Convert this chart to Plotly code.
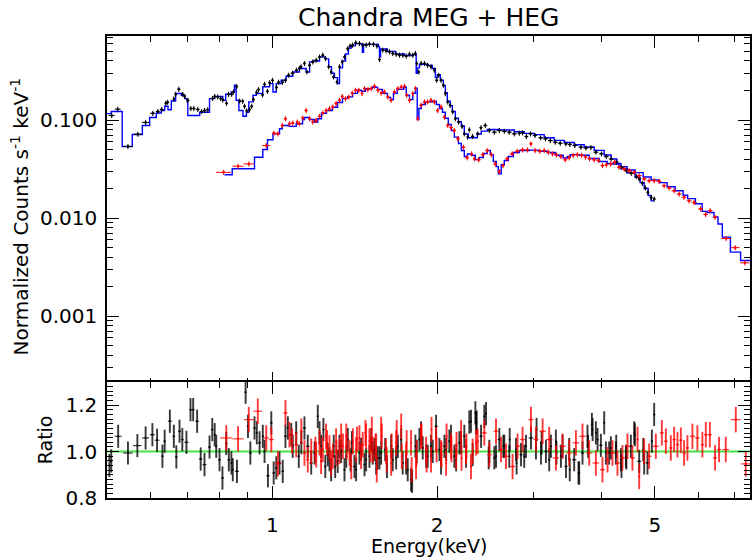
import math
import plotly.graph_objects as go

# ---------------- MEG (first order, black) spectrum ----------------
meg_energy = [0.509, 0.522, 0.545, 0.568, 0.587, 0.605, 0.618, 0.628, 0.639, 0.644,
              0.661, 0.666, 0.675, 0.686, 0.692, 0.701, 0.710, 0.719, 0.731, 0.743,
              0.752, 0.762, 0.778, 0.785, 0.795, 0.805, 0.812, 0.825, 0.832, 0.843,
              0.850, 0.861, 0.872, 0.883, 0.890, 0.898, 0.909, 0.917, 0.924, 0.936,
              0.944, 0.960, 0.968, 0.980, 0.989, 1.001, 1.018, 1.027, 1.044, 1.057,
              1.071, 1.089, 1.107, 1.121, 1.129, 1.145, 1.157, 1.170, 1.186, 1.203,
              1.220, 1.237, 1.251, 1.268, 1.281, 1.294, 1.313, 1.327, 1.342, 1.355,
              1.373, 1.387, 1.402, 1.421, 1.443, 1.463, 1.484, 1.505, 1.531, 1.553,
              1.570, 1.592, 1.614, 1.637, 1.660, 1.684, 1.708, 1.732, 1.757, 1.781,
              1.806, 1.826, 1.836, 1.852, 1.870, 1.897, 1.923, 1.950, 1.978, 1.997,
              2.014, 2.034, 2.054, 2.071, 2.092, 2.113, 2.136, 2.160, 2.190, 2.222,
              2.243, 2.275, 2.291, 2.323, 2.373, 2.406, 2.450, 2.492, 2.545, 2.599,
              2.654, 2.710, 2.768, 2.827, 2.866, 2.912, 2.963, 3.019, 3.093, 3.156,
              3.221, 3.288, 3.358, 3.438, 3.497, 3.571, 3.663, 3.740, 3.820, 3.901,
              3.993, 4.075, 4.160, 4.250, 4.343, 4.436, 4.527, 4.624, 4.681, 4.744,
              4.804, 4.855, 4.921, 4.985]
meg_counts = [0.111, 0.129, 0.0537, 0.0717, 0.0945, 0.117, 0.122, 0.128, 0.148, 0.152,
              0.164, 0.183, 0.206, 0.183, 0.174, 0.159, 0.131, 0.131, 0.128, 0.122,
              0.125, 0.127, 0.166, 0.174, 0.172, 0.166, 0.160, 0.148, 0.183, 0.183,
              0.194, 0.219, 0.156, 0.155, 0.138, 0.124, 0.128, 0.138, 0.162, 0.192,
              0.204, 0.180, 0.231, 0.196, 0.240, 0.254, 0.215, 0.243, 0.243, 0.254,
              0.286, 0.300, 0.322, 0.337, 0.349, 0.377, 0.309, 0.362, 0.391, 0.407,
              0.439, 0.458, 0.424, 0.349, 0.309, 0.275, 0.244, 0.349, 0.391, 0.439,
              0.533, 0.567, 0.580, 0.612, 0.603, 0.580, 0.580, 0.594, 0.590, 0.567,
              0.414, 0.516, 0.508, 0.496, 0.477, 0.469, 0.458, 0.458, 0.448, 0.469,
              0.458, 0.477, 0.377, 0.309, 0.377, 0.377, 0.362, 0.349, 0.322, 0.254,
              0.286, 0.254, 0.226, 0.186, 0.153, 0.141, 0.121, 0.103, 0.0953, 0.0860,
              0.0723, 0.0669, 0.0794, 0.0679, 0.0723, 0.0834, 0.0880, 0.0782, 0.0752, 0.0782,
              0.0769, 0.0752, 0.0723, 0.0734, 0.0741, 0.0679, 0.0723, 0.0696, 0.0659, 0.0644,
              0.0618, 0.0594, 0.0580, 0.0572, 0.0563, 0.0550, 0.0529, 0.0518, 0.0524, 0.0470,
              0.0452, 0.0424, 0.0401, 0.0371, 0.0330, 0.0305, 0.0286, 0.0265, 0.0251, 0.0226,
              0.0203, 0.0183, 0.0162, 0.0157]

# ---------------- HEG (first order, red) spectrum ----------------
heg_energy = [0.815, 0.866, 0.906, 0.975, 1.007, 1.024, 1.043, 1.057, 1.075, 1.090,
              1.111, 1.121, 1.137, 1.153, 1.170, 1.186, 1.203, 1.220, 1.237, 1.254,
              1.272, 1.290, 1.308, 1.327, 1.342, 1.361, 1.380, 1.400, 1.419, 1.439,
              1.459, 1.474, 1.495, 1.516, 1.537, 1.560, 1.581, 1.603, 1.626, 1.648,
              1.672, 1.696, 1.720, 1.744, 1.761, 1.781, 1.806, 1.826, 1.844, 1.870,
              1.897, 1.923, 1.950, 1.978, 2.005, 2.034, 2.063, 2.092, 2.121, 2.151,
              2.184, 2.235, 2.270, 2.313, 2.340, 2.383, 2.425, 2.470, 2.513, 2.555,
              2.599, 2.640, 2.687, 2.743, 2.803, 2.866, 2.925, 2.968, 3.021, 3.081,
              3.139, 3.195, 3.250, 3.305, 3.368, 3.430, 3.487, 3.545, 3.608, 3.674,
              3.735, 3.798, 3.873, 3.945, 4.011, 4.077, 4.151, 4.220, 4.303, 4.394,
              4.487, 4.583, 4.681, 4.780, 4.881, 4.985, 5.091, 5.199, 5.309, 5.422,
              5.537, 5.654, 5.774, 5.897, 6.060, 6.190, 6.310, 6.440, 6.750, 7.010,
              7.300]
heg_counts = [0.0293, 0.0338, 0.0357, 0.0549, 0.0734, 0.0723, 0.0880, 0.103, 0.0917, 0.0930,
              0.0953, 0.0917, 0.105, 0.125, 0.103, 0.0953, 0.0991, 0.109, 0.118, 0.125,
              0.130, 0.136, 0.147, 0.159, 0.174, 0.165, 0.172, 0.188, 0.201, 0.201,
              0.186, 0.209, 0.204, 0.209, 0.221, 0.201, 0.188, 0.193, 0.172, 0.159,
              0.193, 0.209, 0.217, 0.221, 0.179, 0.159, 0.186, 0.209, 0.103, 0.141,
              0.153, 0.153, 0.159, 0.153, 0.125, 0.136, 0.107, 0.0880, 0.0840, 0.0782,
              0.0644, 0.0528, 0.0412, 0.0452, 0.0403, 0.0393, 0.0444, 0.0488, 0.0444, 0.0357,
              0.0298, 0.0343, 0.0403, 0.0452, 0.0480, 0.0496, 0.0496, 0.0572, 0.0488, 0.0480,
              0.0488, 0.0470, 0.0452, 0.0442, 0.0424, 0.0393, 0.0412, 0.0437, 0.0444, 0.0437,
              0.0419, 0.0403, 0.0393, 0.0386, 0.0343, 0.0349, 0.0357, 0.0371, 0.0330, 0.0317,
              0.0305, 0.0293, 0.0271, 0.0251, 0.0241, 0.0241, 0.0237, 0.0214, 0.0203, 0.0190,
              0.0176, 0.0163, 0.0150, 0.0144, 0.0124, 0.0109, 0.0119, 0.0102, 0.0062, 0.0050,
              0.0035]

# ---------------- folded model (blue histogram), left bin edges ----------------
meg_model_edges = [0.498, 0.508, 0.532, 0.555, 0.579, 0.597, 0.614, 0.627, 0.636, 0.645,
                   0.654, 0.666, 0.682, 0.692, 0.699, 0.701, 0.737, 0.768, 0.785, 0.812,
                   0.822, 0.841, 0.853, 0.859, 0.869, 0.884, 0.897, 0.906, 0.922, 0.935,
                   0.961, 0.989, 1.003, 1.017, 1.038, 1.060, 1.090, 1.121, 1.153, 1.170,
                   1.185, 1.220, 1.251, 1.268, 1.283, 1.299, 1.316, 1.327, 1.344, 1.361,
                   1.378, 1.395, 1.418, 1.455, 1.461, 1.468, 1.518, 1.563, 1.570, 1.577,
                   1.623, 1.679, 1.744, 1.806, 1.832, 1.840, 1.857, 1.921, 1.961, 1.986,
                   2.003, 2.028, 2.054, 2.071, 2.088, 2.115, 2.133, 2.160, 2.188, 2.215,
                   2.243, 2.281, 2.369, 2.409, 2.471, 2.599, 2.768, 2.886, 3.010, 3.139,
                   3.274, 3.414, 3.561, 3.714, 3.873, 4.040, 4.159, 4.262, 4.335, 4.448,
                   4.602, 4.700, 4.780, 4.861, 4.923]
meg_model_values = [0.116, 0.122, 0.0537, 0.0712, 0.088, 0.106, 0.118, 0.125, 0.138, 0.127,
                    0.156, 0.186, 0.179, 0.165, 0.153, 0.111, 0.120, 0.165, 0.174, 0.159,
                    0.183, 0.193, 0.226, 0.159, 0.125, 0.109, 0.120, 0.153, 0.179, 0.186,
                    0.218, 0.235, 0.193, 0.235, 0.254, 0.279, 0.309, 0.335, 0.309, 0.391,
                    0.40, 0.44, 0.42, 0.35, 0.30, 0.27, 0.235, 0.34, 0.40, 0.47,
                    0.54, 0.57, 0.60, 0.59, 0.49, 0.59, 0.59, 0.56, 0.44, 0.53,
                    0.50, 0.47, 0.455, 0.465, 0.30, 0.34, 0.37, 0.36, 0.335, 0.27,
                    0.29, 0.255, 0.225, 0.19, 0.155, 0.14, 0.122, 0.104, 0.096, 0.087,
                    0.072, 0.066, 0.072, 0.077, 0.080, 0.079, 0.076, 0.073, 0.071, 0.066,
                    0.062, 0.059, 0.056, 0.053, 0.049, 0.044, 0.040, 0.036, 0.032, 0.029,
                    0.026, 0.023, 0.020, 0.017, 0.0150]
meg_model_end = 4.99

heg_model_edges = [0.818, 0.845, 0.928, 0.961, 0.980, 1.003, 1.031, 1.043, 1.075, 1.106,
                   1.136, 1.145, 1.170, 1.195, 1.211, 1.230, 1.256, 1.288, 1.316, 1.344,
                   1.373, 1.402, 1.431, 1.455, 1.480, 1.524, 1.557, 1.590, 1.623, 1.644,
                   1.665, 1.691, 1.737, 1.757, 1.781, 1.806, 1.826, 1.840, 1.853, 1.871,
                   1.904, 1.961, 1.994, 2.020, 2.046, 2.071, 2.097, 2.124, 2.151, 2.188,
                   2.215, 2.243, 2.273, 2.310, 2.349, 2.389, 2.430, 2.471, 2.502, 2.534,
                   2.566, 2.588, 2.620, 2.654, 2.699, 2.757, 2.827, 2.948, 3.074, 3.180,
                   3.288, 3.400, 3.458, 3.502, 3.637, 3.793, 3.956, 4.090, 4.194, 4.303,
                   4.448, 4.602, 4.760, 4.923, 5.091, 5.265, 5.445, 5.630, 5.740, 5.930,
                   6.100, 6.230, 6.410, 6.520, 6.640, 6.870, 7.170]
heg_model_values = [0.0277, 0.0318, 0.0417, 0.050, 0.0629, 0.0723, 0.0814, 0.088, 0.086, 0.0917,
                    0.101, 0.106, 0.101, 0.0953, 0.103, 0.117, 0.125, 0.135, 0.151, 0.166,
                    0.172, 0.187, 0.201, 0.196, 0.208, 0.216, 0.205, 0.187, 0.170, 0.162,
                    0.187, 0.205, 0.216, 0.179, 0.162, 0.187, 0.211, 0.101, 0.131, 0.144,
                    0.153, 0.155, 0.144, 0.131, 0.120, 0.104, 0.0902, 0.0782, 0.0669, 0.0577,
                    0.0488, 0.0424, 0.0450, 0.0437, 0.0396, 0.0415, 0.0456, 0.0488, 0.0444, 0.0377,
                    0.0335, 0.0283, 0.0351, 0.0386, 0.0424, 0.0466, 0.0488, 0.0493, 0.0480, 0.0466,
                    0.0437, 0.0410, 0.0424, 0.0444, 0.0437, 0.0405, 0.0377, 0.0360, 0.0355, 0.0335,
                    0.0309, 0.0291, 0.0262, 0.0245, 0.0230, 0.0209, 0.0190, 0.0171, 0.0158, 0.0140,
                    0.0117, 0.0114, 0.0103, 0.0087, 0.0064, 0.0045, 0.0037]
heg_model_end = 7.46

# ---------------- data / model ratio ----------------
meg_ratio_energy = [0.504, 0.508, 0.523, 0.545, 0.567, 0.587, 0.604, 0.616, 0.630, 0.636,
                    0.650, 0.661, 0.668, 0.677, 0.685, 0.697, 0.709, 0.717, 0.729, 0.740,
                    0.752, 0.768, 0.777, 0.785, 0.790, 0.801, 0.811, 0.824, 0.833, 0.842,
                    0.847, 0.862, 0.894, 0.903, 0.912, 0.928, 0.937, 0.948, 0.961, 0.968,
                    0.982, 0.996, 1.006, 1.017, 1.031, 1.045, 1.057, 1.068, 1.083, 1.090,
                    1.106, 1.118, 1.130, 1.145, 1.161, 1.178, 1.195, 1.211, 1.220, 1.228,
                    1.240, 1.250, 1.263, 1.272, 1.281, 1.295, 1.303, 1.317, 1.327, 1.336,
                    1.355, 1.365, 1.374, 1.390, 1.398, 1.413, 1.423, 1.443, 1.453, 1.474,
                    1.484, 1.505, 1.516, 1.526, 1.537, 1.548, 1.558, 1.570, 1.581, 1.608,
                    1.620, 1.649, 1.660, 1.684, 1.696, 1.720, 1.731, 1.756, 1.768, 1.793,
                    1.801, 1.826, 1.836, 1.857, 1.870, 1.883, 1.910, 1.923, 1.950, 1.964,
                    1.992, 2.020, 2.034, 2.063, 2.078, 2.106, 2.121, 2.151, 2.167, 2.197,
                    2.213, 2.243, 2.259, 2.291, 2.307, 2.323, 2.350, 2.357, 2.363, 2.407,
                    2.440, 2.458, 2.485, 2.492, 2.545, 2.563, 2.599, 2.643, 2.654, 2.710,
                    2.715, 2.788, 2.795, 2.847, 2.886, 2.907, 2.969, 3.032, 3.040, 3.097,
                    3.105, 3.162, 3.206, 3.229, 3.297, 3.305, 3.368, 3.391, 3.440, 3.487,
                    3.495, 3.561, 3.626, 3.637, 3.688, 3.766, 3.775, 3.836, 3.848, 3.901,
                    3.929, 3.984, 4.040, 4.069, 4.125, 4.155, 4.243, 4.250, 4.334, 4.345,
                    4.426, 4.435, 4.520, 4.583, 4.597, 4.681, 4.761, 4.780, 4.847, 4.937,
                    4.985]
meg_ratio = [0.94, 0.96, 1.066, 0.994, 1.026, 1.059, 1.073, 1.049, 0.980, 1.045,
             1.131, 1.066, 0.977, 1.088, 1.052, 1.040, 1.181, 1.181, 1.131, 0.968,
             0.944, 1.020, 1.095, 1.073, 1.023, 0.965, 0.886, 1.035, 0.965, 0.951,
             0.922, 0.915, 1.256, 1.109, 0.994, 1.102, 1.081, 1.038, 1.066, 1.001,
             0.896, 1.124, 0.908, 0.930, 0.951, 0.915, 1.066, 1.102, 1.073, 1.023,
             1.081, 0.980, 1.038, 1.102, 1.023, 0.951, 0.994, 1.152, 1.081, 1.023,
             1.095, 0.936, 0.987, 0.965, 0.922, 1.023, 0.936, 0.958, 1.023, 1.001,
             0.922, 0.980, 1.052, 0.965, 1.038, 0.936, 0.922, 0.994, 1.009, 0.944,
             0.965, 0.980, 1.052, 0.994, 1.009, 0.951, 0.973, 0.973, 0.994, 1.009,
             0.936, 1.023, 0.965, 0.973, 1.023, 1.052, 0.951, 0.951, 0.922, 0.879,
             0.872, 1.023, 1.001, 1.052, 1.081, 1.016, 0.980, 0.980, 1.023, 1.001,
             1.109, 1.009, 0.951, 1.023, 1.009, 1.045, 1.066, 0.980, 0.965, 1.038,
             1.038, 1.066, 0.980, 1.127, 1.131, 0.987, 1.167, 1.124, 1.127, 1.066,
             1.152, 1.164, 0.973, 1.001, 0.973, 0.980, 1.052, 1.023, 1.023, 0.980,
             1.052, 1.009, 0.951, 0.987, 0.980, 1.023, 1.059, 1.016, 1.095, 0.994,
             1.038, 1.001, 0.965, 1.023, 1.045, 0.994, 0.980, 1.023, 0.936, 1.009,
             0.922, 0.965, 0.908, 0.908, 0.994, 1.066, 1.023, 1.117, 1.095, 1.081,
             1.052, 1.027, 1.124, 0.994, 0.994, 1.016, 0.994, 1.023, 0.965, 0.936,
             0.980, 0.973, 1.023, 1.081, 1.073, 0.958, 1.009, 0.951, 0.951, 1.045,
             1.160]

heg_ratio_energy = [0.824, 0.866, 0.906, 0.941, 0.975, 0.996, 1.024, 1.057, 1.075, 1.087,
                    1.106, 1.130, 1.145, 1.161, 1.178, 1.199, 1.203, 1.220, 1.228, 1.237,
                    1.254, 1.259, 1.272, 1.281, 1.290, 1.308, 1.310, 1.327, 1.336, 1.346,
                    1.365, 1.368, 1.384, 1.394, 1.404, 1.423, 1.428, 1.443, 1.453, 1.463,
                    1.480, 1.484, 1.505, 1.512, 1.520, 1.526, 1.544, 1.548, 1.552, 1.581,
                    1.585, 1.614, 1.618, 1.649, 1.652, 1.684, 1.688, 1.720, 1.724, 1.756,
                    1.760, 1.793, 1.797, 1.831, 1.835, 1.870, 1.874, 1.910, 1.914, 1.950,
                    1.954, 1.992, 1.996, 2.034, 2.038, 2.078, 2.082, 2.121, 2.125, 2.167,
                    2.171, 2.213, 2.217, 2.259, 2.263, 2.307, 2.323, 2.357, 2.373, 2.440,
                    2.492, 2.563, 2.617, 2.673, 2.748, 2.806, 2.866, 2.969, 3.032, 3.118,
                    3.206, 3.297, 3.391, 3.487, 3.587, 3.688, 3.793, 3.901, 4.011, 4.097,
                    4.183, 4.272, 4.363, 4.456, 4.550, 4.648, 4.681, 4.780, 4.881, 5.020,
                    5.148, 5.236, 5.347, 5.422, 5.498, 5.577, 5.654, 5.733, 5.855, 5.979,
                    6.106, 6.194, 6.300, 6.441, 6.550, 6.737, 7.027, 7.328]
heg_ratio = [1.059, 1.055, 1.138, 1.174, 1.059, 1.052, 0.948, 1.167, 1.073, 1.045,
             1.030, 1.088, 0.994, 0.965, 1.001, 1.009, 0.987, 1.038, 0.958, 1.009,
             1.066, 1.038, 1.016, 0.951, 0.980, 1.045, 0.994, 1.001, 1.066, 1.023,
             1.066, 1.023, 0.994, 0.936, 1.045, 1.009, 1.052, 1.059, 0.980, 1.030,
             1.081, 1.066, 1.045, 1.009, 1.095, 1.009, 1.023, 1.023, 0.922, 1.095,
             1.066, 1.001, 0.965, 0.951, 1.023, 1.038, 1.081, 1.109, 0.980, 0.980,
             1.038, 1.038, 0.922, 0.936, 0.994, 1.066, 1.066, 1.009, 0.965, 0.965,
             1.095, 1.052, 1.009, 0.994, 0.987, 0.951, 1.066, 1.023, 1.009, 0.980,
             1.030, 1.081, 0.973, 1.001, 1.023, 0.936, 1.001, 1.038, 1.045, 1.081,
             0.987, 1.088, 1.009, 0.980, 0.936, 1.023, 1.052, 1.138, 1.052, 1.088,
             1.052, 0.973, 1.023, 0.994, 1.038, 1.066, 0.994, 0.951, 0.922, 0.965,
             0.994, 0.951, 0.973, 1.023, 0.973, 1.052, 0.893, 1.001, 0.980, 1.023,
             1.081, 1.045, 1.016, 1.052, 1.030, 1.049, 0.994, 1.016, 1.066, 1.059,
             1.030, 1.073, 1.073, 0.973, 1.009, 1.009, 1.138, 0.947]

# axis ticks
major_x = [1, 2, 5]
minor_x = [0.6, 0.7, 0.8, 0.9, 3, 4, 6, 7]
major_y = [0.001, 0.01, 0.1]
major_y_text = ["0.001", "0.010", "0.100"]
major_r = [0.8, 1.0, 1.2]
major_r_text = ["0.8", "1.0", "1.2"]

X_LO, X_HI = 0.499, 7.46
Y_LO, Y_HI = 2.06e-4, 0.718
R_LO, R_HI = 0.8, 1.3

PLOT_H = 559 - 36 - 61          # height of the stacked plotting area, px
SPLIT = 0.251                   # fraction of it used by the ratio panel
LINE_W = 1.5


def half_bins(e):
    """Half the distance to the closest neighbouring bin centre."""
    out = []
    for i in range(len(e)):
        gaps = []
        if i > 0:
            gaps.append(e[i] - e[i - 1])
        if i < len(e) - 1:
            gaps.append(e[i + 1] - e[i])
        out.append(0.5 * min(gaps))
    return out


def steps(edges, values, end):
    return list(edges) + [end], list(values) + [values[-1]]


minor_y = [m * 10.0 ** d for d in (-4, -3, -2, -1) for m in range(2, 10)
           if Y_LO <= m * 10.0 ** d <= Y_HI]
minor_r = [round(0.8 + 0.02 * i, 2) for i in range(26)]
minor_r = [v for v in minor_r if v not in major_r]

BLACK = "black"
RED = "#ff0000"
BLUE = "#0000ff"
GREEN = "rgb(70,225,70)"

fig = go.Figure()

# model histograms
mx, my = steps(meg_model_edges, meg_model_values, meg_model_end)
fig.add_trace(go.Scatter(x=mx, y=my, mode="lines", line=dict(color=BLUE, width=1.4, shape="hv"),
                         xaxis="x", yaxis="y", hoverinfo="skip"))
hx, hy = steps(heg_model_edges, heg_model_values, heg_model_end)
fig.add_trace(go.Scatter(x=hx, y=hy, mode="lines", line=dict(color=BLUE, width=1.4, shape="hv"),
                         xaxis="x", yaxis="y", hoverinfo="skip"))

# spectra
for e, c, col in ((meg_energy, meg_counts, BLACK), (heg_energy, heg_counts, RED)):
    fig.add_trace(go.Scatter(
        x=e, y=c, mode="markers", xaxis="x", yaxis="y",
        marker=dict(color=col, size=2.5),
        error_x=dict(type="data", array=half_bins(e), color=col, thickness=1, width=0),
        error_y=dict(type="percent", value=6, color=col, thickness=1, width=0),
    ))

# unity line of the ratio panel
fig.add_trace(go.Scatter(x=[X_LO, X_HI], y=[1.0, 1.0], mode="lines",
                         line=dict(color=GREEN, width=2), xaxis="x2", yaxis="y2",
                         hoverinfo="skip"))

# ratio points
for e, r, col, err in ((meg_ratio_energy, meg_ratio, "rgba(0,0,0,0.78)", 0.05),
                       (heg_ratio_energy, heg_ratio, "rgba(255,0,0,0.78)", 0.055)):
    fig.add_trace(go.Scatter(
        x=e, y=r, mode="markers", xaxis="x2", yaxis="y2",
        marker=dict(color=col, size=2),
        error_x=dict(type="data", array=half_bins(e), color=col, thickness=1.2, width=0),
        error_y=dict(type="constant", value=err, color=col, thickness=1.9, width=0),
    ))

FONT = "DejaVu Sans"
axis_common = dict(showline=True, linecolor="black", linewidth=LINE_W, mirror="allticks",
                   ticks="inside", ticklen=12, tickwidth=1, tickcolor="black",
                   showgrid=False, zeroline=False)

# the upper panel is lowered by one line width so both frame lines at the
# panel boundary fall on the same pixels
top_start = SPLIT - LINE_W / PLOT_H

fig.update_layout(
    width=753, height=559,
    margin=dict(l=107, r=1, t=36, b=61),
    paper_bgcolor="white", plot_bgcolor="white",
    showlegend=False,
    font=dict(family=FONT, color="black", size=19),
    xaxis=dict(type="log", range=[math.log10(X_LO), math.log10(X_HI)], anchor="y",
               domain=[0, 1], tickvals=major_x, showticklabels=False,
               minor=dict(tickvals=minor_x, ticks="inside", ticklen=6, tickcolor="black"),
               **axis_common),
    yaxis=dict(type="log", range=[math.log10(Y_LO), math.log10(Y_HI)], anchor="x",
               domain=[top_start, 1], tickvals=major_y, ticktext=major_y_text,
               tickfont=dict(size=20), ticklabelstandoff=4,
               minor=dict(tickvals=minor_y, ticks="inside", ticklen=6, tickcolor="black"),
               **axis_common),
    xaxis2=dict(type="log", range=[math.log10(X_LO), math.log10(X_HI)], anchor="y2",
                domain=[0, 1], tickvals=major_x, ticktext=[str(v) for v in major_x],
                tickfont=dict(size=20), ticklabelstandoff=8,
                minor=dict(tickvals=minor_x, ticks="inside", ticklen=6, tickcolor="black"),
                **axis_common),
    yaxis2=dict(range=[R_LO, R_HI], anchor="x2", domain=[0, SPLIT],
                tickvals=major_r, ticktext=major_r_text, tickfont=dict(size=20),
                ticklabelstandoff=4,
                minor=dict(tickvals=minor_r, ticks="inside", ticklen=6, tickcolor="black"),
                **axis_common),
    annotations=[
        dict(text="Chandra MEG + HEG", xref="paper", yref="paper", x=0.5, y=1.041,
             xanchor="center", yanchor="middle", showarrow=False, font=dict(size=25)),
        dict(text="Normalized Counts s<sup>-1</sup> keV<sup>-1</sup>", xref="paper", yref="paper",
             x=-0.135, y=0.61, xanchor="center", yanchor="middle", textangle=-90,
             showarrow=False, font=dict(size=20)),
        dict(text="Ratio", xref="paper", yref="paper", x=-0.096, y=0.1255,
             xanchor="center", yanchor="middle", textangle=-90, showarrow=False,
             font=dict(size=19)),
        dict(text="Energy(keV)", xref="paper", yref="paper", x=0.5, y=-0.104,
             xanchor="center", yanchor="middle", showarrow=False, font=dict(size=19)),
    ],
)

fig.write_html("out.html")
